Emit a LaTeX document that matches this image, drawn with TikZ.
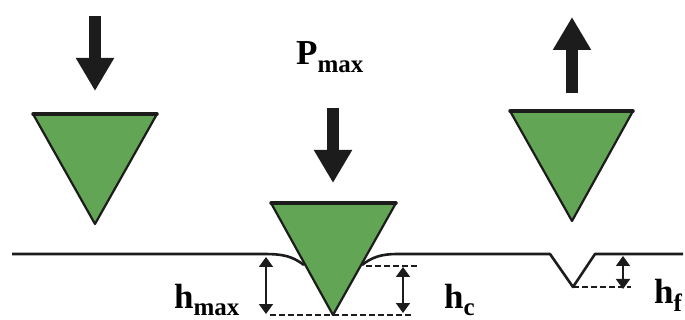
\documentclass[tikz,border=0pt]{standalone}
\usepackage{fontspec}
\setmainfont{Liberation Serif}
\usepackage{xcolor}
\usetikzlibrary{arrows.meta}
\definecolor{tipgreen}{RGB}{98,165,84}
\definecolor{inkdark}{RGB}{28,28,28}
\newcommand{\sublabel}[2]{{\fontsize{35}{35}\selectfont\bfseries #1}\raisebox{-8pt}{\fontsize{25}{25}\selectfont\bfseries #2}}

\begin{document}
\begin{tikzpicture}[
    x=1pt, y=-1pt,
    indenter/.style={draw=inkdark, line width=2.2pt, line join=round, fill=tipgreen},
    flat/.style={draw=inkdark, line width=3.5pt, line cap=round},
    load/.style={draw=inkdark, line width=12pt, -{Triangle[length=33pt, width=36pt]}},
    surface/.style={draw=inkdark, line width=2.6pt, line join=round},
    guide/.style={draw=inkdark, line width=1.8pt, dash pattern=on 6pt off 3pt},
    depth/.style={draw=inkdark, line width=1.8pt, {Triangle[length=10pt, width=14pt]}-{Triangle[length=10pt, width=14pt]}},
    lab/.style={inner sep=0pt, anchor=base west},
]
    \useasboundingbox (0,0) rectangle (685,320);

    % indenters
    \coordinate (leftA) at (33,114);
    \coordinate (leftB) at (157,114);
    \coordinate (leftTip) at (95,224);
    \coordinate (midA) at (271,203);
    \coordinate (midB) at (396,203);
    \coordinate (midTip) at (333,315);
    \coordinate (rightA) at (510,111);
    \coordinate (rightB) at (633,111);
    \coordinate (rightTip) at (572,221);

    % surface
    \coordinate (surfA) at (12,254);
    \coordinate (surfB) at (397,254);
    \coordinate (surfC) at (550,254);
    \coordinate (surfD) at (595,254);
    \coordinate (surfE) at (683,254);
    \coordinate (dentL) at (304,265);
    \coordinate (dentR) at (362,265);
    \coordinate (pit) at (573,287);
    \draw[surface] (surfA) -- (263,254) .. controls (283,254) and (292,256) .. (dentL);
    \draw[surface] (dentR) .. controls (372,257) and (382,254) .. (surfB) -- (surfC) -- (pit) -- (surfD) -- (surfE);

    \draw[indenter] (leftA) -- (leftB) -- (leftTip) -- cycle;
    \draw[flat] (leftA) -- (leftB);
    \draw[indenter] (midA) -- (midB) -- (midTip) -- cycle;
    \draw[flat] (midA) -- (midB);
    \draw[indenter] (rightA) -- (rightB) -- (rightTip) -- cycle;
    \draw[flat] (rightA) -- (rightB);

    % loads
    \coordinate (loadAs) at (95,16);
    \coordinate (loadAe) at (95,91);
    \coordinate (loadBs) at (333,108);
    \coordinate (loadBe) at (333,183);
    \coordinate (loadCs) at (572,93);
    \coordinate (loadCe) at (572,17);
    \draw[load] (loadAs) -- (loadAe);
    \draw[load] (loadBs) -- (loadBe);
    \draw[load] (loadCs) -- (loadCe);

    % depth marks
    \coordinate (hmaxEnd) at (413,315);
    \coordinate (hcStart) at (366,266);
    \coordinate (hcEnd) at (417,266);
    \coordinate (hfEnd) at (631,287);
    \draw[guide] (270,315) -- (hmaxEnd);
    \draw[guide] (hcStart) -- (hcEnd);
    \draw[guide] (pit) -- (hfEnd);
    \draw[depth] (266,257) -- (266,314);
    \draw[depth] (403,267) -- (403,313);
    \draw[depth] (623,256) -- (623,289);

    % labels
    \node[lab] (pmax) at (296,65) {\sublabel{P}{max}};
    \node[lab] (hmax) at (174,308) {\sublabel{h}{max}};
    \node[lab] (hc) at (444,308) {\sublabel{h}{c}};
    \node[lab] (hf) at (654,303) {\sublabel{h}{f}};
\end{tikzpicture}
\end{document}
